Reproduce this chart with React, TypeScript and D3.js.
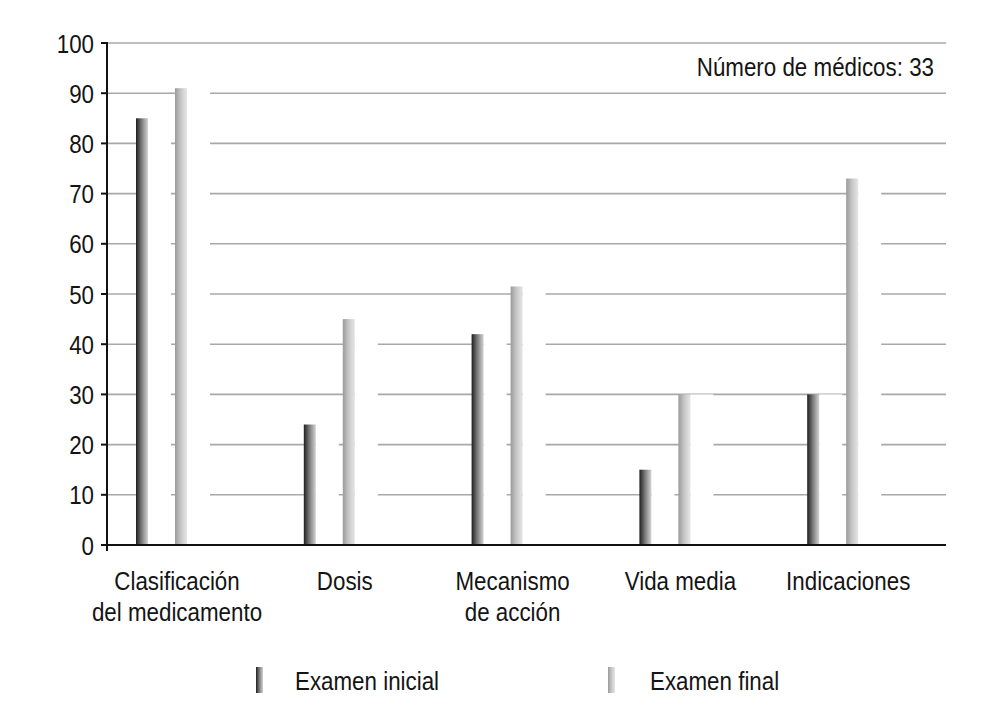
import { useRef, useEffect } from "react";
import * as d3 from "d3";

const categories = [
  ["Clasificación", "del medicamento"],
  ["Dosis"],
  ["Mecanismo", "de acción"],
  ["Vida media"],
  ["Indicaciones"],
];
const inicial = [85, 24, 42, 15, 30];
const final = [91, 45, 51.5, 30, 73];
const yTicks = [0, 10, 20, 30, 40, 50, 60, 70, 80, 90, 100];
const seriesNames = ["Examen inicial", "Examen final"];

const FONT = "'Liberation Sans', Arial, sans-serif";
const SQUEEZE = 0.86;

export default function App() {
  const svgRef = useRef<SVGSVGElement>(null);

  useEffect(() => {
    if (!svgRef.current) return;
    const svg = d3.select(svgRef.current);
    svg.selectAll("*").remove();

    const W = 983;
    const H = 720;
    const left = 107;
    const right = 946;
    const top = 43;
    const bottom = 545;

    svg.attr("width", W).attr("height", H);
    svg.append("rect").attr("width", W).attr("height", H).attr("fill", "#fff");

    // condensed text: the narrow face is not installed, so squeeze horizontally
    const label = (px: number, py: number, txt: string, anchor: string, size = 26) =>
      svg
        .append("g")
        .attr("transform", `translate(${px},${py}) scale(${SQUEEZE},1)`)
        .append("text")
        .attr("text-anchor", anchor)
        .attr("font-family", FONT)
        .attr("font-size", size)
        .attr("fill", "#141414")
        .text(txt);

    const defs = svg.append("defs");
    const gDark = defs.append("linearGradient").attr("id", "gDark");
    gDark.append("stop").attr("offset", "0%").attr("stop-color", "#1e1e1e");
    gDark.append("stop").attr("offset", "45%").attr("stop-color", "#777");
    gDark.append("stop").attr("offset", "100%").attr("stop-color", "#d4d4d4");
    const gLight = defs.append("linearGradient").attr("id", "gLight");
    gLight.append("stop").attr("offset", "0%").attr("stop-color", "#9a9a9a");
    gLight.append("stop").attr("offset", "50%").attr("stop-color", "#c8c8c8");
    gLight.append("stop").attr("offset", "100%").attr("stop-color", "#e6e6e6");

    const y = d3.scaleLinear().domain([0, 100]).range([bottom, top]);
    const x = d3.scaleBand<number>().domain(d3.range(categories.length)).range([left, right]);

    // gridlines
    svg
      .append("g")
      .selectAll("line")
      .data(yTicks.filter((t) => t > 0))
      .enter()
      .append("line")
      .attr("x1", left)
      .attr("x2", right)
      .attr("y1", (d) => y(d))
      .attr("y2", (d) => y(d))
      .attr("stroke", "#a8a8a8")
      .attr("stroke-width", 1.6);

    const barW = 12;
    const halo = 23;
    const offsets = [29, 68];
    const series = [inicial, final];
    const fills = ["url(#gDark)", "url(#gLight)"];

    series.forEach((vals, s) => {
      // white side faces hiding the gridlines
      svg
        .append("g")
        .selectAll("rect")
        .data(vals)
        .enter()
        .append("rect")
        .attr("x", (_, i) => (x(i) as number) + offsets[s] + barW)
        .attr("width", halo)
        .attr("y", (d) => y(d))
        .attr("height", (d) => bottom - y(d))
        .attr("fill", "#fff");
    });
    series.forEach((vals, s) => {
      svg
        .append("g")
        .selectAll("rect")
        .data(vals)
        .enter()
        .append("rect")
        .attr("x", (_, i) => (x(i) as number) + offsets[s])
        .attr("width", barW)
        .attr("y", (d) => y(d))
        .attr("height", (d) => bottom - y(d))
        .attr("fill", fills[s]);
    });

    // axes
    svg.append("line").attr("x1", left).attr("x2", right).attr("y1", bottom).attr("y2", bottom)
      .attr("stroke", "#111").attr("stroke-width", 2);
    svg.append("line").attr("x1", left).attr("x2", left).attr("y1", top - 1).attr("y2", bottom + 6)
      .attr("stroke", "#111").attr("stroke-width", 2);

    svg.append("g").selectAll("line").data(yTicks).enter().append("line")
      .attr("x1", left - 6).attr("x2", left)
      .attr("y1", (d) => y(d)).attr("y2", (d) => y(d))
      .attr("stroke", "#111").attr("stroke-width", 2);
    yTicks.forEach((t) => label(94, y(t) + 9.5, String(t), "end"));

    // category labels
    categories.forEach((lines, i) => {
      lines.forEach((ln, j) => label((x(i) as number) + 70, 590 + j * 31, ln, "middle"));
    });

    label(934, 76, "Número de médicos: 33", "end");

    // legend
    const legendX = [256, 608];
    seriesNames.forEach((name, s) => {
      svg.append("rect")
        .attr("x", legendX[s])
        .attr("y", 667)
        .attr("width", 7)
        .attr("height", 26)
        .attr("fill", fills[s]);
      label(legendX[s] + 39 + s * 3, 690, name, "start");
    });
  }, []);

  return <svg ref={svgRef} style={{ position: "absolute", left: 0, top: 0, display: "block" }} />;
}
